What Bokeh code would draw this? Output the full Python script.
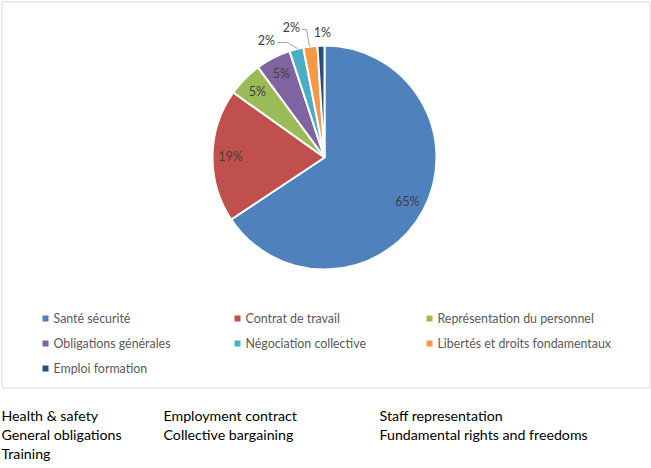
import math
from bokeh.plotting import figure
from bokeh.models import Range1d
from bokeh.core.properties import value
from bokeh.embed import file_html
from bokeh.resources import INLINE

# ---- data ----
categories = ["Santé sécurité", "Contrat de travail", "Représentation du personnel",
              "Obligations générales", "Négociation collective",
              "Libertés et droits fondamentaux", "Emploi formation"]
shares = [65, 19, 5, 5, 2, 2, 1]
colors = ["#4F81BD", "#C0504D", "#9BBB59", "#8064A2", "#4BACC6", "#F79646", "#2C4D75"]
english_rows = [["Health & safety", "Employment contract", "Staff representation"],
                ["General obligations", "Collective bargaining", "Fundamental rights and freedoms"],
                ["Training"]]

FONT = "Lato"
W, H = 651, 468
p = figure(width=W, height=H, output_backend="svg", toolbar_location=None,
           x_range=Range1d(0, W), y_range=Range1d(-H, 0),
           min_border=0, outline_line_color=None)
p.axis.visible = False
p.grid.visible = False
p.background_fill_color = "white"
p.border_fill_color = "white"

def Y(py):
    return -py

# chart frame
p.quad(left=[1.5], right=[649.5], top=[Y(1.5)], bottom=[Y(387.5)],
       fill_color=None, line_color="#D9D9D9", line_width=1)

# pie
cx, cy, r = 324, 157, 112
total = float(sum(shares))
cum = [0.0]
for s in shares:
    cum.append(cum[-1] + s / total)
starts = [math.pi / 2 - 2 * math.pi * cum[i + 1] for i in range(len(shares))]
ends = [math.pi / 2 - 2 * math.pi * cum[i] for i in range(len(shares))]
p.wedge(x=[cx] * len(shares), y=[Y(cy)] * len(shares), radius=r,
        start_angle=starts, end_angle=ends, fill_color=colors,
        line_color="white", line_width=2)

# data labels
labels = ["%d%%" % s for s in shares]
lx, ly = [], []
for i in range(4):
    mid = (cum[i] + cum[i + 1]) / 2 * 2 * math.pi
    lx.append(cx + 0.84 * r * math.sin(mid))
    ly.append(Y(cy - 0.84 * r * math.cos(mid)))
outside = [(266, 40), (291, 27), (322, 32)]
for (ox, oy) in outside:
    lx.append(ox)
    ly.append(Y(oy))
p.text(x=lx, y=ly, text=labels, text_font=value(FONT), text_font_size="12.5px",
       text_color="#404040", text_align="center", text_baseline="middle")
# leader lines
p.line(x=[277, 287, 297], y=[Y(42), Y(42), Y(48)], line_color="#A6A6A6", line_width=1)
p.line(x=[302, 306, 309], y=[Y(29), Y(29), Y(46)], line_color="#A6A6A6", line_width=1)

# legend
col_x = [45, 237, 429]
row_y = [318, 343, 368]
sx, sy, tx, ty = [], [], [], []
for i, c in enumerate(categories):
    rr, cc = divmod(i, 3)
    sx.append(col_x[cc]); sy.append(Y(row_y[rr]))
    tx.append(col_x[cc] + 8); ty.append(Y(row_y[rr]))
p.rect(x=sx, y=sy, width=6, height=6, fill_color=colors, line_color=None)
p.text(x=tx, y=ty, text=categories, text_font=value(FONT), text_font_size="12.4px",
       text_color="#595959", text_align="left", text_baseline="middle")

# english translations below
ecol = [1, 163, 379]
erow = [415, 434, 453]
ex, ey, et = [], [], []
for ri, row in enumerate(english_rows):
    for ci, t in enumerate(row):
        ex.append(ecol[ci]); ey.append(Y(erow[ri])); et.append(t)
p.text(x=ex, y=ey, text=et, text_font=value(FONT), text_font_size="14.2px",
       text_color="#000000", text_align="left", text_baseline="middle")

open("out.html", "w").write(file_html(p, INLINE))
